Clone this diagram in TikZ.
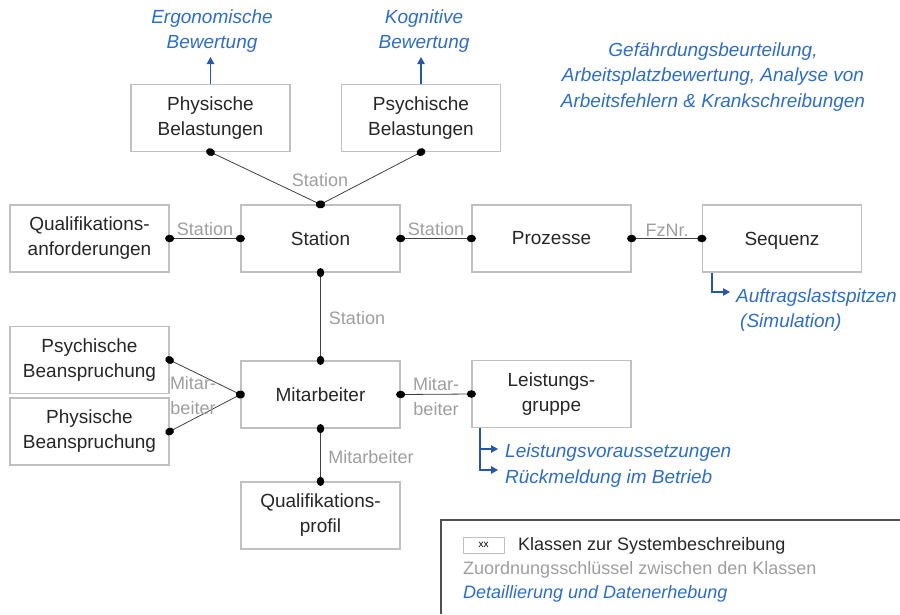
\documentclass[tikz,border=0pt]{standalone}
\usepackage{fontspec}
\setmainfont{Liberation Sans}
\usetikzlibrary{arrows.meta}
\definecolor{boxgray}{RGB}{192,192,192}
\definecolor{keygray}{RGB}{158,158,158}
\definecolor{infoblue}{RGB}{45,110,195}
\definecolor{arrowblue}{RGB}{40,88,165}
\definecolor{legendgray}{RGB}{80,80,80}
\begin{document}
\begin{tikzpicture}[x=1pt,y=-1pt,
  every node/.style={font=\fontsize{18}{25}\selectfont},
  klasse/.style={draw=boxgray,line width=1.2pt,minimum width=159pt,minimum height=67pt,inner sep=0pt,align=center,text=black!85,font=\fontsize{19}{25}\selectfont},
  schluessel/.style={text=keygray,inner sep=0pt,align=center},
  detail/.style={text=infoblue,font=\fontsize{19}{25.5}\selectfont\itshape,inner sep=0pt},
  verbindung/.style={draw=black!75,line width=0.8pt,{Circle[length=9pt,width=7.5pt,color=black]}-{Circle[length=9pt,width=7.5pt,color=black]},shorten <=-4.5pt,shorten >=-4.5pt},
  pfeil/.style={draw=arrowblue,line width=1.1pt,-{Triangle[length=7pt,width=7.5pt]}}]
\useasboundingbox (0,0) rectangle (900,614);
\node[klasse] (phb) at (210.5,118) {Physische\\Belastungen};
\node[klasse] (psb) at (421,118) {Psychische\\Belastungen};
\node[klasse] (qa) at (89.5,238.5) {Qualifikations-\\anforderungen};
\node[klasse] (st) at (320.5,238.5) {Station};
\node[klasse] (pz) at (551.5,238.5) {Prozesse};
\node[klasse,text depth=0pt] (sq) at (782,238.5) {Sequenz};
\node[klasse] (psbe) at (89.5,360) {Psychische\\Beanspruchung};
\node[klasse] (phbe) at (89.5,431.5) {Physische\\Beanspruchung};
\node[klasse] (ma) at (320.5,394.5) {Mitarbeiter};
\node[klasse] (lg) at (551.5,394) {Leistungs-\\gruppe};
\node[klasse] (qp) at (320.5,515.5) {Qualifikations-\\profil};
% Zuordnungsschluessel
\draw[verbindung] (st.north) -- (phb.south);
\draw[verbindung] (st.north) -- (psb.south);
\draw[verbindung] (qa.east) -- (st.west);
\draw[verbindung] (st.east) -- (pz.west);
\draw[verbindung] (pz.east) -- (sq.west);
\draw[verbindung] (st.south) -- (ma.north);
\draw[verbindung] (ma.west) -- (psbe.east);
\draw[verbindung] (ma.west) -- (phbe.east);
\draw[verbindung] (ma.east) -- (lg.west);
\draw[verbindung] (ma.south) -- (qp.north);
\node[schluessel] (k1) at (320,180) {Station};
\node[schluessel] (k2) at (205,229) {Station};
\node[schluessel] (k3) at (436,229) {Station};
\node[schluessel] (k4) at (667,230) {FzNr.};
\node[schluessel] (k5) at (357,318) {Station};
\node[schluessel] (k6) at (193,396) {Mitar-\\beiter};
\node[schluessel] (k7) at (436,397) {Mitar-\\beiter};
\node[schluessel] (k8) at (371,457) {Mitarbeiter};
% Detaillierung
\node[detail,align=center] (ergo) at (212,31) {Ergonomische\\Bewertung};
\node[detail,align=center] (kogn) at (424,31) {Kognitive\\Bewertung};
\node[detail,align=center] (gefa) at (713,77) {Gefährdungsbeurteilung,\\Arbeitsplatzbewertung, Analyse von\\Arbeitsfehlern \& Krankschreibungen};
\coordinate (ergospitze) at (210.5,57);
\coordinate (kognspitze) at (421,57);
\draw[pfeil] (phb.north) -- (ergospitze);
\draw[pfeil] (psb.north) -- (kognspitze);
\coordinate (sqknick) at (712,292);
\coordinate (sqende) at (730,292);
\draw[pfeil] (sq.south west -| sqknick) |- (sqende);
\node[detail,anchor=west,align=left] (auft) at (736,310) {Auftragslastspitzen\\\hspace{4pt}(Simulation)};
\coordinate (lgknick) at (480,449);
\coordinate (lgende1) at (498,449);
\coordinate (lgende2) at (498,470);
\draw[pfeil] (lg.south west -| lgknick) |- (lgende2);
\draw[pfeil] (lgknick) -- (lgende1);
\node[detail,anchor=west,align=left] (leis) at (505,465.5) {Leistungsvoraussetzungen\\Rückmeldung im Betrieb};
% Legende
\draw[legendgray,line width=1.5pt] (900,520) -| (441,614);
\node[draw=boxgray,line width=1pt,minimum width=41pt,minimum height=16pt,inner sep=0pt,font=\fontsize{10}{12}\selectfont] (lxx) at (483.5,545) {xx};
\node[anchor=west,inner sep=0pt,text=black!85] (l1) at (518,546) {Klassen zur Systembeschreibung};
\node[schluessel,anchor=west] (l2) at (463,570) {Zuordnungsschlüssel zwischen den Klassen};
\node[detail,anchor=west,font=\fontsize{18}{25}\selectfont\itshape] (l3) at (463,594) {Detaillierung und Datenerhebung};
\end{tikzpicture}
\end{document}
